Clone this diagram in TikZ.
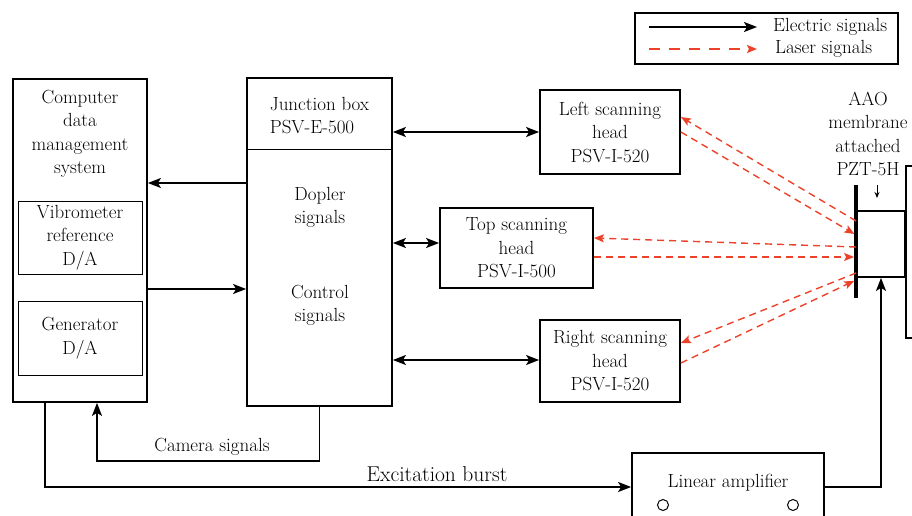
\documentclass[tikz,border=0pt]{standalone}
\usetikzlibrary{arrows.meta}
\definecolor{laserred}{RGB}{236,66,42}
\tikzset{
	box/.style={draw,line width=1.8pt,inner sep=0pt},
	inbox/.style={draw,line width=1pt,inner sep=0pt},
	txt/.style={align=center,inner sep=0pt,font=\fontsize{19}{23.5}\selectfont},
	elec/.style={line width=1.6pt,>={Stealth[length=13pt,width=10pt,inset=3pt]}},
	laser/.style={laserred,line width=1.4pt,dash pattern=on 7pt off 5pt,>={Stealth[length=10pt,width=8pt,inset=2pt]}}
}
\begin{document}
\begin{tikzpicture}[x=1pt,y=-1pt]
		\useasboundingbox (0,0) rectangle (912,516);
		\clip (0,0) rectangle (912,516);
		\node[box,minimum width=134pt,minimum height=323pt] (pc) at (80,240.5) {};
		\node[txt] (pctext) at (80,134) {Computer\\data\\management\\system};
		\node[inbox,txt,minimum width=124pt,minimum height=73pt] (vib) at (80,237.5) {Vibrometer\\reference\\D/A};
		\node[inbox,txt,minimum width=124pt,minimum height=74pt] (gen) at (80,338) {Generator\\D/A};
		\node[box,minimum width=145pt,minimum height=328pt] (jb) at (319.5,242) {};
		\draw[line width=0.9pt] (jb.west |- 0,149) -- (jb.east |- 0,149);
		\node[txt,align=left] (jbtitle) at (319.5,115.5) {Junction box\\PSV-E-500};
		\node[txt] (dop) at (320,207.5) {Dopler\\signals};
		\node[txt] (ctl) at (320,305.5) {Control\\signals};
		\node[box,txt,minimum width=140pt,minimum height=84pt] (lh) at (610,132) {Left scanning\\head\\PSV-I-520};
		\node[box,txt,minimum width=153pt,minimum height=80pt] (th) at (516.5,248) {Top scanning\\head\\PSV-I-500};
		\node[box,txt,minimum width=140pt,minimum height=82pt] (rh) at (610,361) {Right scanning\\head\\PSV-I-520};
		\node[box,minimum width=192pt,minimum height=68pt] (amp) at (728,487) {};
		\node[txt] (amptext) at (728,483) {Linear amplifier};
		\draw[line width=1pt] (663,505) circle (5.5pt);
		\draw[line width=1pt] (793,505) circle (5.5pt);
		\node[box,minimum width=48pt,minimum height=66pt] (pzt) at (881,244) {};
		\draw[line width=4pt] (pzt.west |- 0,185) -- (pzt.west |- 0,298);
		\node[box,minimum width=40pt,minimum height=172pt,anchor=north west] (frame) at (905,165) {};
		\node[txt] (aao) at (868,134) {AAO\\membrane\\attached\\PZT-5H};
		\coordinate (pzttail) at (877,185);
		\coordinate (pzttip) at (877,198);
		\draw[line width=1pt,-{Stealth[length=6pt,width=5pt]}] (pzttail) -- (pzttip);
		\node[draw,line width=1.2pt,minimum width=263pt,minimum height=51pt,inner sep=0pt] (legend) at (766.5,38.5) {};
		\coordinate (ea) at (649,27);
		\coordinate (eb) at (757,27);
		\coordinate (la) at (649,49);
		\coordinate (lb) at (757,49);
		\draw[elec,->,line width=2pt] (ea) -- (eb);
		\draw[laser,->,line width=2.2pt,dash pattern=on 11pt off 9pt] (la) -- (lb);
		\node[txt,anchor=west] (etext) at (773,27) {Electric signals};
		\node[txt,anchor=west] (ltext) at (775,49) {Laser signals};
		\draw[elec,->] (jb.west |- 0,183) -- (pc.east |- 0,183);
		\draw[elec,->] (pc.east |- 0,289) -- (jb.west |- 0,289);
		\draw[elec,<->] (jb.east |- 0,132) -- (lh.west |- 0,132);
		\draw[elec,<->] (jb.east |- 0,243) -- (th.west |- 0,243);
		\draw[elec,<->] (jb.east |- 0,360) -- (rh.west |- 0,360);
		\draw[elec,->] (jb.south) |- (97,461) -- (pc.south -| 97,0);
		\node[txt] (cam) at (212,447) {Camera signals};
		\draw[elec,->] (pc.south -| 45,0) |- (amp.west);
		\node[txt,font=\fontsize{21.5}{24}\selectfont] (exc) at (437,474) {Excitation burst};
		\draw[elec,->] (amp.east) -| (pzt.south);
		\draw[laser,->] (pzt.west |- 0,221) -- (lh.east |- 0,117);
		\draw[laser,->,shorten >=2pt] (lh.east |- 0,132) -- (pzt.west |- 0,235);
		\draw[laser,->] (pzt.west |- 0,247) -- (th.east |- 0,238);
		\draw[laser,->,shorten >=2pt] (th.east |- 0,257) -- (pzt.west |- 0,257);
		\draw[laser,->] (pzt.west |- 0,273) -- (rh.east |- 0,343);
		\draw[laser,->,shorten >=2pt] (rh.east |- 0,363) -- (pzt.west |- 0,280);
	\end{tikzpicture}
\end{document}
